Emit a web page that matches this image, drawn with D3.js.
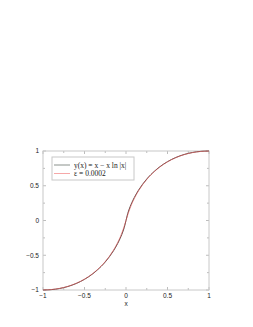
<!DOCTYPE html>
<html lang="en">
<head>
<meta charset="utf-8">
<style>
  body { margin: 0; background: #fff; }
  svg { font-family: "Liberation Sans", Arial, sans-serif; }
  .frame { fill: none; stroke: #c8c8c8; stroke-width: 1px; }
  .tick line { stroke: #bdbdbd; }
  .ticklabel { font-size: 6.5px; fill: #222; }
  .legend text { font-family: "Liberation Serif", "Times New Roman", serif; font-size: 7.5px; fill: #222; }
</style>
</head>
<body>
<svg width="253" height="327"></svg>
<script src="https://cdn.jsdelivr.net/npm/d3@7"></script>
<script>
var xs = [-1, -0.9, -0.8, -0.7, -0.6, -0.5, -0.4, -0.3, -0.25, -0.2, -0.15, -0.1, -0.07, -0.05, -0.02, 0,
          0.02, 0.05, 0.07, 0.1, 0.15, 0.2, 0.25, 0.3, 0.4, 0.5, 0.6, 0.7, 0.8, 0.9, 1];
var exact = [-1, -0.9948, -0.9785, -0.9497, -0.9065, -0.8466, -0.7665, -0.6612, -0.5966, -0.5219, -0.4346, -0.3303, -0.2562, -0.1998, -0.0982, 0,
             0.0982, 0.1998, 0.2562, 0.3303, 0.4346, 0.5219, 0.5966, 0.6612, 0.7665, 0.8466, 0.9065, 0.9497, 0.9785, 0.9948, 1];
var eps = [-0.999, -0.9932, -0.9766, -0.9475, -0.904, -0.844, -0.763, -0.656, -0.5907, -0.515, -0.425, -0.317, -0.2394, -0.180, -0.0768, 0,
           0.0768, 0.180, 0.2394, 0.317, 0.425, 0.515, 0.5907, 0.656, 0.763, 0.844, 0.904, 0.9475, 0.9766, 0.9932, 0.999];
var xTicks = [-1, -0.5, 0, 0.5, 1];
var yTicks = [-1, -0.5, 0, 0.5, 1];
var minorTicks = [-0.75, -0.25, 0.25, 0.75];
var legendLabels = ["y(x) = x \u2212 x ln |x|", "\u03b5 = 0.0002"];
var colors = ["#8a918c", "#f6a8a8"];

var svg = d3.select("svg");
var mLeft = 43, mRight = 209, mTop = 151, mBottom = 290;

var x = d3.scaleLinear().domain([-1, 1]).range([mLeft, mRight]);
var y = d3.scaleLinear().domain([-1, 1]).range([mBottom, mTop]);

var fmt = d => d === 0 ? "0" : (d < 0 ? "\u2212" + Math.abs(d) : String(d));

// ticks on all four sides, pointing inward
var tickG = svg.append("g").attr("class", "tick");
xTicks.concat(minorTicks).forEach(function (t) {
  var len = xTicks.indexOf(t) >= 0 ? 3 : 2;
  tickG.append("line").attr("x1", x(t)).attr("x2", x(t)).attr("y1", mBottom).attr("y2", mBottom - len);
  tickG.append("line").attr("x1", x(t)).attr("x2", x(t)).attr("y1", mTop).attr("y2", mTop + len);
});
yTicks.concat(minorTicks).forEach(function (t) {
  var len = yTicks.indexOf(t) >= 0 ? 3 : 2;
  tickG.append("line").attr("y1", y(t)).attr("y2", y(t)).attr("x1", mLeft).attr("x2", mLeft + len);
  tickG.append("line").attr("y1", y(t)).attr("y2", y(t)).attr("x1", mRight).attr("x2", mRight - len);
});

svg.append("rect").attr("class", "frame")
  .attr("x", mLeft).attr("y", mTop)
  .attr("width", mRight - mLeft).attr("height", mBottom - mTop);

svg.selectAll(".xl").data(xTicks).enter().append("text")
  .attr("class", "ticklabel")
  .attr("x", d => x(d)).attr("y", mBottom + 8)
  .attr("text-anchor", "middle")
  .text(fmt);

svg.selectAll(".yl").data(yTicks).enter().append("text")
  .attr("class", "ticklabel")
  .attr("x", mLeft - 4).attr("y", d => y(d) + 2.3)
  .attr("text-anchor", "end")
  .text(fmt);

svg.append("text").attr("class", "ticklabel")
  .attr("x", (mLeft + mRight) / 2).attr("y", mBottom + 16)
  .attr("text-anchor", "middle")
  .text("x");

var line = d3.line().x(d => x(d[0])).y(d => y(d[1])).curve(d3.curveCatmullRom.alpha(0.5));

svg.append("path")
  .datum(xs.map((v, i) => [v, exact[i]]))
  .attr("d", line)
  .attr("fill", "none").attr("stroke", "#5a4a48").attr("stroke-width", 1);

svg.append("path")
  .datum(xs.map((v, i) => [v, eps[i]]))
  .attr("d", line)
  .attr("fill", "none").attr("stroke", "#e05a5a").attr("stroke-opacity", 0.65).attr("stroke-width", 1);

// legend
var lg = svg.append("g").attr("class", "legend");
lg.append("rect")
  .attr("x", 52).attr("y", 157).attr("width", 82).attr("height", 23)
  .attr("fill", "#fff").attr("stroke", "#c8c8c8");
legendLabels.forEach(function (lab, i) {
  var ly = 165 + i * 8.5;
  lg.append("line").attr("x1", 54).attr("x2", 70).attr("y1", ly).attr("y2", ly)
    .attr("stroke", colors[i]).attr("stroke-width", 1);
  lg.append("text").attr("x", 74).attr("y", ly + 2.5).text(lab);
});
</script>
</body>
</html>
